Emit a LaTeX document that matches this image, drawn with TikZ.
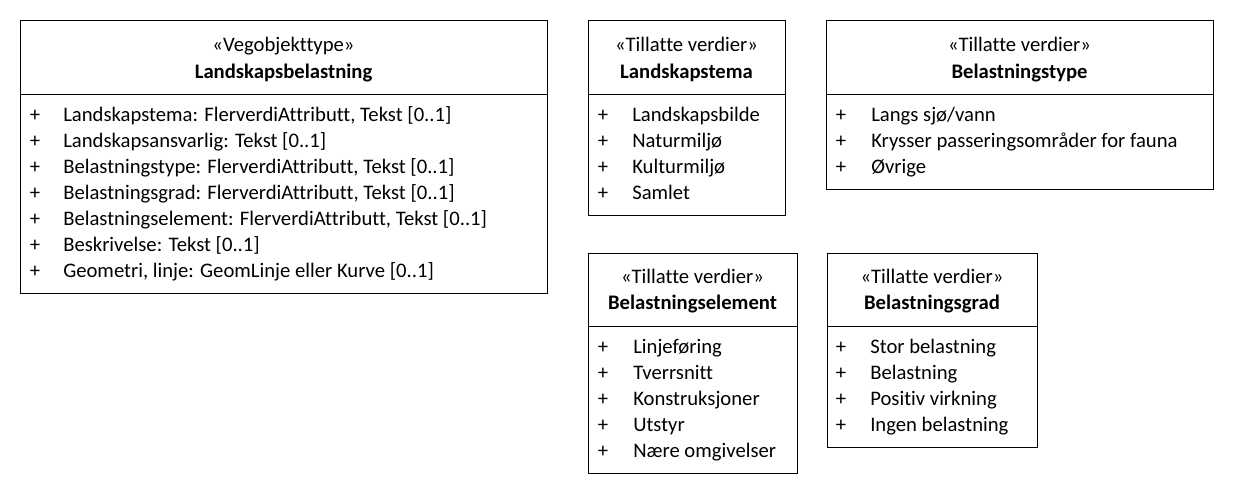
\documentclass[tikz,border=0pt]{standalone}
\usepackage{fontspec}
\setmainfont{Carlito}[Ligatures=CommonOff]
\usepackage{tikz}

\begin{document}
\begin{tikzpicture}[x=0.75pt,y=-0.75pt,
        every node/.style={inner sep=0pt, font=\fontsize{15.5}{18}\selectfont},
        head/.style={anchor=base},
        plus/.style={anchor=base},
        item/.style={anchor=base west},
        box/.style={draw=black, line width=0.75pt}]
        \useasboundingbox (0,0) rectangle (1234,494);

        % Landskapsbelastning
        \draw[box] (20,20) rectangle (547,293);
        \draw[box] (20,94) -- (547,94);
        \node[head] (lbs) at (283.5,51.5) {«Vegobjekttype»};
        \node[head] (lbn) at (283.5,78.5) {\textbf{Landskapsbelastning}};
        \node[plus] (lbp1) at (35,121.5) {+};
        \node[plus] (lbp2) at (35,147.5) {+};
        \node[plus] (lbp3) at (35,173.5) {+};
        \node[plus] (lbp4) at (35,199.5) {+};
        \node[plus] (lbp5) at (35,225.5) {+};
        \node[plus] (lbp6) at (35,251.5) {+};
        \node[plus] (lbp7) at (35,277.5) {+};
        \node[item] (lb1) at (63,121.5) {Landskapstema: FlerverdiAttributt, Tekst [0..1]};
        \node[item] (lb2) at (63,147.5) {Landskapsansvarlig: Tekst [0..1]};
        \node[item] (lb3) at (63,173.5) {Belastningstype: FlerverdiAttributt, Tekst [0..1]};
        \node[item] (lb4) at (63,199.5) {Belastningsgrad: FlerverdiAttributt, Tekst [0..1]};
        \node[item] (lb5) at (63,225.5) {Belastningselement: FlerverdiAttributt, Tekst [0..1]};
        \node[item] (lb6) at (63,251.5) {Beskrivelse: Tekst [0..1]};
        \node[item] (lb7) at (63,277.5) {Geometri, linje: GeomLinje eller Kurve [0..1]};

        % Landskapstema
        \draw[box] (588,20) rectangle (785,215);
        \draw[box] (588,94) -- (785,94);
        \node[head] (lts) at (686.5,51.5) {«Tillatte verdier»};
        \node[head] (ltn) at (686.5,78.5) {\textbf{Landskapstema}};
        \node[plus] (ltp1) at (603,121.5) {+};
        \node[plus] (ltp2) at (603,147.5) {+};
        \node[plus] (ltp3) at (603,173.5) {+};
        \node[plus] (ltp4) at (603,199.5) {+};
        \node[item] (lt1) at (632,121.5) {Landskapsbilde};
        \node[item] (lt2) at (632,147.5) {Naturmiljø};
        \node[item] (lt3) at (632,173.5) {Kulturmiljø};
        \node[item] (lt4) at (632,199.5) {Samlet};

        % Belastningstype
        \draw[box] (826,20) rectangle (1213,189);
        \draw[box] (826,94) -- (1213,94);
        \node[head] (bts) at (1019.5,51.5) {«Tillatte verdier»};
        \node[head] (btn) at (1019.5,78.5) {\textbf{Belastningstype}};
        \node[plus] (btp1) at (841,121.5) {+};
        \node[plus] (btp2) at (841,147.5) {+};
        \node[plus] (btp3) at (841,173.5) {+};
        \node[item] (bt1) at (871,121.5) {Langs sjø/vann};
        \node[item] (bt2) at (871,147.5) {Krysser passeringsområder for fauna};
        \node[item] (bt3) at (871,173.5) {Øvrige};

        % Belastningselement
        \draw[box] (588,253) rectangle (797,473);
        \draw[box] (588,326) -- (797,326);
        \node[head] (bes) at (692.5,283.5) {«Tillatte verdier»};
        \node[head] (ben) at (692.5,309.5) {\textbf{Belastningselement}};
        \node[plus] (bep1) at (603,353.5) {+};
        \node[plus] (bep2) at (603,379.5) {+};
        \node[plus] (bep3) at (603,405.5) {+};
        \node[plus] (bep4) at (603,431.5) {+};
        \node[plus] (bep5) at (603,457.5) {+};
        \node[item] (be1) at (633,353.5) {Linjeføring};
        \node[item] (be2) at (633,379.5) {Tverrsnitt};
        \node[item] (be3) at (633,405.5) {Konstruksjoner};
        \node[item] (be4) at (633,431.5) {Utstyr};
        \node[item] (be5) at (633,457.5) {Nære omgivelser};

        % Belastningsgrad
        \draw[box] (827,253) rectangle (1037,447);
        \draw[box] (827,326) -- (1037,326);
        \node[head] (bgs) at (932,283.5) {«Tillatte verdier»};
        \node[head] (bgn) at (932,309.5) {\textbf{Belastningsgrad}};
        \node[plus] (bgp1) at (841,353.5) {+};
        \node[plus] (bgp2) at (841,379.5) {+};
        \node[plus] (bgp3) at (841,405.5) {+};
        \node[plus] (bgp4) at (841,431.5) {+};
        \node[item] (bg1) at (870,353.5) {Stor belastning};
        \node[item] (bg2) at (870,379.5) {Belastning};
        \node[item] (bg3) at (870,405.5) {Positiv virkning};
        \node[item] (bg4) at (870,431.5) {Ingen belastning};
    \end{tikzpicture}
\end{document}
